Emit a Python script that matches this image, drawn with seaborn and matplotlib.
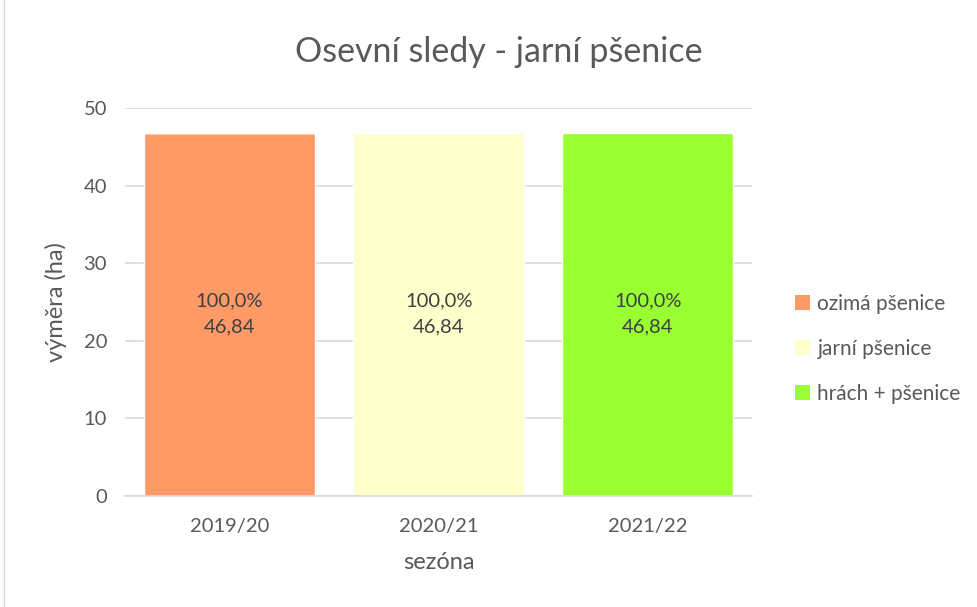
import numpy as np
import pandas as pd
import seaborn as sns
import matplotlib.pyplot as plt
from matplotlib.patches import Patch, Rectangle

# data
sezony = ["2019/20", "2020/21", "2021/22"]
plodiny = ["ozimá pšenice", "jarní pšenice", "hrách + pšenice"]
ozima_psenice = [46.84, 0, 0]
jarni_psenice = [0, 46.84, 0]
hrach_psenice = [0, 0, 46.84]
barvy = ["#FF9966", "#FFFFCC", "#99FF33"]

hodnoty = [ozima_psenice, jarni_psenice, hrach_psenice]

sns.set_theme(style="white")
plt.rcParams["font.family"] = ["Lato", "DejaVu Sans"]
seda = "#595959"

fig = plt.figure(figsize=(9.77, 6.07), dpi=100)
ax = fig.add_axes([0.128, 0.183, 0.642, 0.639])

dolni = np.zeros(len(sezony))
for plodina, vals, barva in zip(plodiny, hodnoty, barvy):
    df = pd.DataFrame({"sezona": sezony, "vymera": vals})
    sns.barplot(data=df, x="sezona", y="vymera", color=barva, width=0.82,
                bottom=dolni, ax=ax, saturation=1, errorbar=None, zorder=3)
    dolni = dolni + np.array(vals)

# popisky v pruzich
celkem = np.sum(hodnoty, axis=0)
for vals in hodnoty:
    for i, v in enumerate(vals):
        if v > 0:
            pct = f"{v / celkem[i] * 100:.1f}%".replace(".", ",")
            txt = f"{v:.2f}".replace(".", ",")
            ax.text(i, v / 2, pct + "\n" + txt, ha="center", va="center",
                    fontsize=14.5, color="#404040", linespacing=1.65, zorder=4)

ax.set_ylim(0, 50)
ax.set_xlim(-0.5, 2.5)
ax.set_yticks(range(0, 51, 10))
ax.yaxis.grid(True, color="#D9D9D9", linewidth=1.2, zorder=0)
for s in ["top", "right", "left"]:
    ax.spines[s].set_visible(False)
ax.spines["bottom"].set_color("#D9D9D9")
ax.spines["bottom"].set_linewidth(1.2)
ax.spines["bottom"].set_zorder(5)
ax.tick_params(axis="both", length=0, labelsize=14.5, labelcolor=seda, pad=13)
ax.tick_params(axis="x", pad=16)

ax.set_xlabel("sezóna", fontsize=17, color=seda, labelpad=12)
ax.set_ylabel("výměra (ha)", fontsize=17, color=seda, labelpad=12)
fig.text(0.511, 0.915, "Osevní sledy - jarní pšenice", ha="center", va="center",
         fontsize=24.5, color=seda)

handles = [Patch(facecolor=b, edgecolor="none") for b in barvy]
fig.legend(handles, plodiny, loc="center left", bbox_to_anchor=(0.795, 0.425),
           frameon=False, fontsize=15, labelcolor=seda, handlelength=0.7,
           handleheight=0.7, handletextpad=0.35, labelspacing=1.2)

fig.patches.append(Rectangle((0.004, -0.01), 1.2, 1.2, transform=fig.transFigure,
                             fill=False, edgecolor="#D9D9D9", linewidth=1))

fig.savefig("out.png", dpi=100)
